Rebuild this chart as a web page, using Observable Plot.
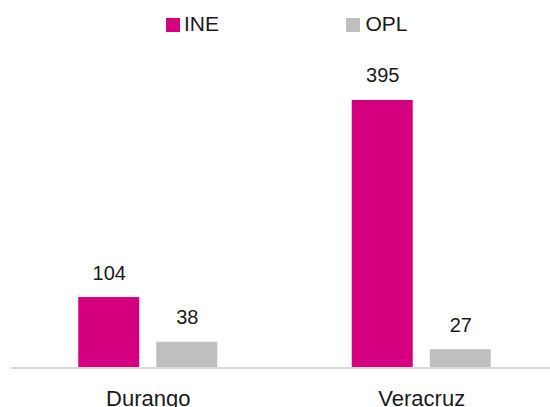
<!DOCTYPE html>
<html>
<head>
<meta charset="utf-8">
<script src="https://cdn.jsdelivr.net/npm/d3@7"></script>
<script src="https://cdn.jsdelivr.net/npm/@observablehq/plot@0.6"></script>
<style>
  html, body { margin: 0; padding: 0; background: #fff; overflow: hidden; width: 550px; height: 407px; }
  #legend { position: relative; height: 48px; font-family: "Liberation Sans", Arial, sans-serif; font-size: 21px; color: #1a1a1a; }
  #legend .sw { position: absolute; width: 14px; height: 14px; top: 17.7px; }
  #legend .lb { position: absolute; top: 12.4px; line-height: 24px; white-space: nowrap; }
  #chart { width: 550px; overflow: hidden; }
  #chart svg { display: block; max-width: none !important; width: 558px !important; height: 359px !important; }
</style>
</head>
<body>
<div id="legend"></div>
<div id="chart"></div>
<script>
const categories = ["Durango", "Veracruz"];
const series = ["INE", "OPL"];
const ineValues = [104, 395];
const oplValues = [38, 27];
const colors = ["#D5007F", "#BFBFBF"];

const data = categories.flatMap((c, i) => [
  {cat: c, s: "INE", v: ineValues[i]},
  {cat: c, s: "OPL", v: oplValues[i]}
]);

// legend
const legend = document.getElementById("legend");
const legendPos = [{sw: 166, lb: 184}, {sw: 346, lb: 365.5}];
series.forEach((s, i) => {
  const sw = document.createElement("div");
  sw.className = "sw";
  sw.style.left = legendPos[i].sw + "px";
  sw.style.background = colors[i];
  legend.appendChild(sw);
  const lb = document.createElement("div");
  lb.className = "lb";
  lb.style.left = legendPos[i].lb + "px";
  lb.textContent = s;
  legend.appendChild(lb);
});

const chart = Plot.plot({
  width: 558,
  height: 359,
  marginLeft: 11,
  marginRight: 0,
  marginTop: 48.6,
  marginBottom: 39.5,
  style: {fontFamily: "'Liberation Sans', Arial, sans-serif", color: "#1a1a1a", background: "#fff"},
  fx: {domain: categories, padding: 0, label: null, round: false},
  x: {domain: series, paddingInner: 0.218, paddingOuter: 0.862, axis: null, round: false},
  y: {domain: [0, 400], axis: null},
  color: {domain: series, range: colors},
  marks: [
    Plot.barY(data, {fx: "cat", x: "s", y: "v", fill: "s"}),
    Plot.ruleY([0], {stroke: "#d9d9d9", strokeWidth: 2}),
    Plot.text(data, {fx: "cat", x: "s", y: "v", text: d => String(d.v), lineAnchor: "bottom", dy: -18, fontSize: 20, fill: "#1a1a1a"}),
    Plot.axisFx({anchor: "bottom", tickSize: 0, tickPadding: 22.5, fontSize: 22, label: null})
  ]
});
document.getElementById("chart").appendChild(chart);
</script>
</body>
</html>
